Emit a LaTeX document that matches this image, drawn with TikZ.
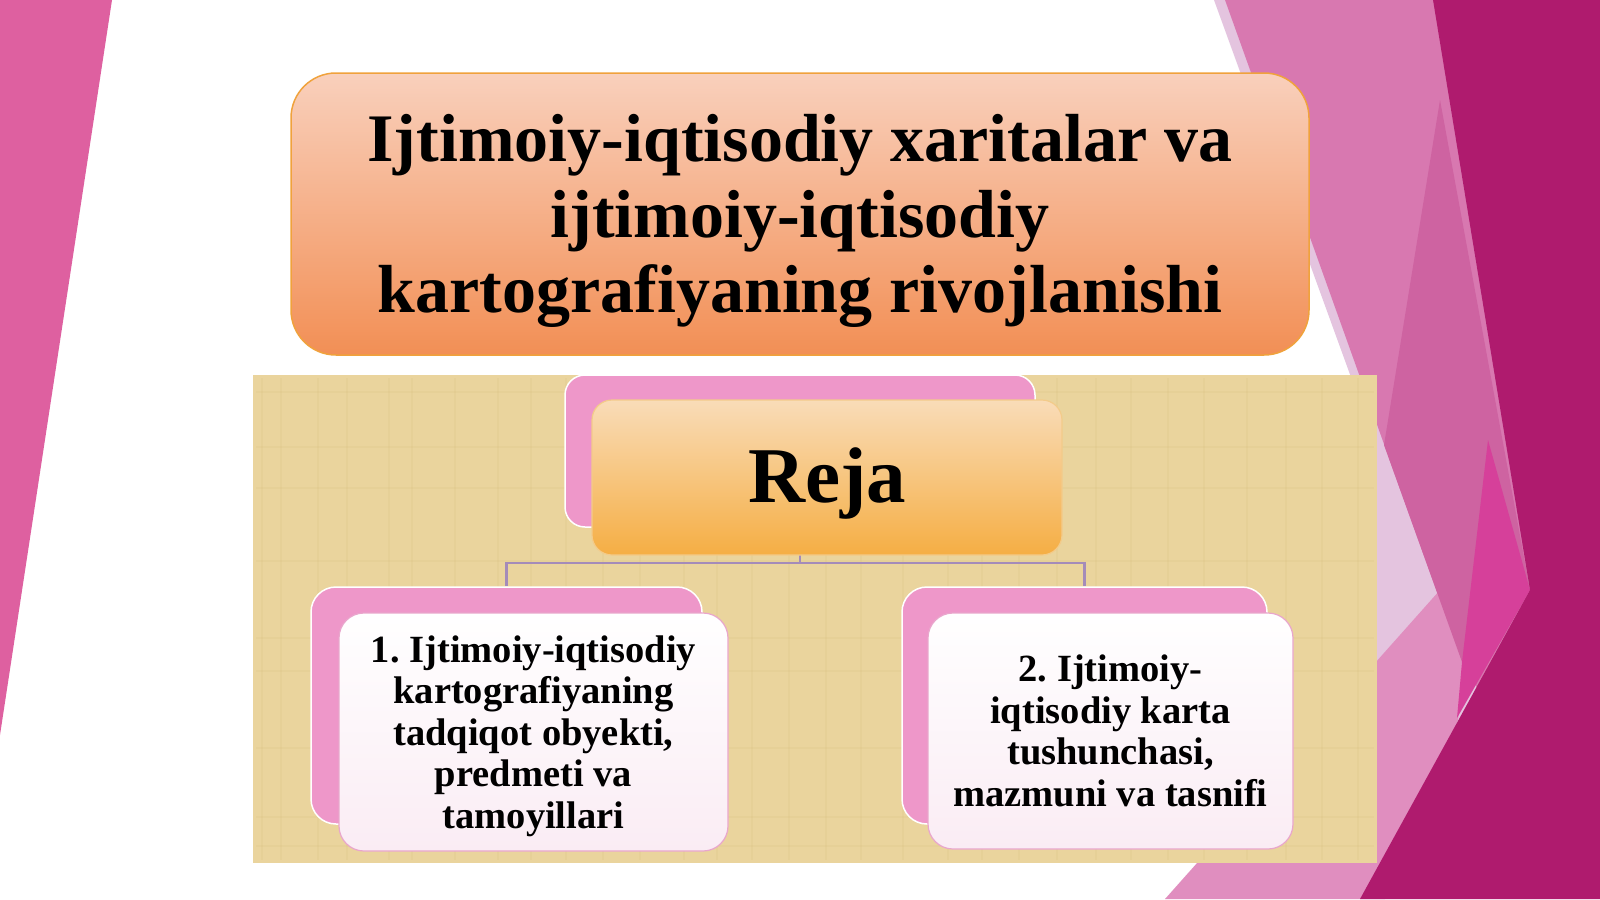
\documentclass[tikz,border=0pt]{standalone}
\usepackage{fontspec}
\setmainfont{Liberation Serif}
\frenchspacing

\definecolor{facetleft}{HTML}{DE60A0}
\definecolor{facetlav}{HTML}{E4C4DF}
\definecolor{facetlight}{HTML}{D878B0}
\definecolor{facetpale}{HTML}{E08EBF}
\definecolor{facetmid}{HTML}{CE63A1}
\definecolor{facethot}{HTML}{D6409A}
\definecolor{facetdark}{HTML}{AF1B6E}
\definecolor{titletop}{HTML}{F9D0BC}
\definecolor{titlebottom}{HTML}{F28F55}
\definecolor{titleedge}{HTML}{F0A23C}
\definecolor{rejatop}{HTML}{F9DCB8}
\definecolor{rejabottom}{HTML}{F5AE44}
\definecolor{rejaedge}{HTML}{F3CB8A}
\definecolor{pinkback}{HTML}{EE97C9}
\definecolor{frontedge}{HTML}{E9A6CC}
\definecolor{frontbottom}{HTML}{FAECF4}
\definecolor{burlap}{HTML}{EAD49D}
\definecolor{burlapline}{HTML}{C9AE6A}
\definecolor{linkline}{HTML}{A48BB9}

\tikzset{title box/.style={rounded corners=45pt,draw=titleedge,line width=1.5pt,top color=titletop,bottom color=titlebottom,inner sep=0pt},
title text/.style={align=center,inner sep=0pt,font=\fontsize{68}{75.5}\selectfont\bfseries},
reja back/.style={rounded corners=20pt,fill=pinkback,draw=white,line width=1.5pt,inner sep=0pt},
reja front/.style={rounded corners=20pt,draw=rejaedge,line width=1.2pt,top color=rejatop,bottom color=rejabottom,inner sep=0pt},
reja text/.style={inner sep=0pt,font=\fontsize{79}{86}\selectfont\bfseries},
item back/.style={rounded corners=25pt,fill=pinkback,draw=white,line width=1.5pt,inner sep=0pt},
item front/.style={rounded corners=25pt,draw=frontedge,line width=1.2pt,top color=white,bottom color=frontbottom,inner sep=0pt},
item text/.style={align=center,inner sep=0pt,font=\fontsize{38.5}{41.5}\selectfont\bfseries},
burlap streak/.style={draw=burlapline,opacity=0.1,line width=1.5pt},
link/.style={draw=linkline,line width=2.5pt}}

\begin{document}
\begin{tikzpicture}[x=1pt,y=-1pt]
\useasboundingbox (0,0) rectangle (1600,899);
\fill[white] (0,0) rectangle (1600,899);

%% facets at the sides
\fill[facetleft] (0,0) -- (112,0) -- (0,735) -- cycle;
\fill[facetlav] (1214,0) -- (1600,0) -- (1600,899) -- (1400,899) -- (1380,700) -- (1352,380) -- cycle;
\fill[facetlight] (1225,0) -- (1600,0) -- (1600,899) -- (1462,662) -- cycle;
\fill[facetpale] (1165,899) -- (1440,590) -- (1465,662) -- (1458,720) -- (1385,899) -- cycle;
\fill[facetmid] (1440,100) -- (1530,590) -- (1462,662) -- (1384,445) -- cycle;
\fill[facethot] (1488,440) -- (1530,590) -- (1457,718) -- (1462,662) -- cycle;
\fill[facetdark] (1433,0) -- (1600,0) -- (1600,899) -- (1360,899) -- (1530,590) -- cycle;

%% title
\node [title box,minimum width=1018pt,minimum height=282pt] (title) at (800,214) {};
\node [title text] (title text) at ([yshift=-7pt]title.center)
  {Ijtimoiy-iqtisodiy xaritalar va\\ijtimoiy-iqtisodiy\\kartografiyaning rivojlanishi};

%% burlap panel
\fill[burlap] (253,375) rectangle (1377,863);
\foreach \x in {262,281,318,347,389,412,455,498,531,566,603,640,684,717,752,789,826,861,903,948,982,1019,1057,1096,1131,1168,1204,1247,1286,1322,1358}
  \draw[burlap streak] (\x,378) -- (\x,860);
\foreach \y in {392,447,488,561,638,671,748,817,846}
  \draw[burlap streak] (256,\y) -- (1374,\y);

%% Coordinates of nodes.
\coordinate (rejab pos) at (800,451);
\coordinate (reja pos) at (827,477.5);
\coordinate (item1b pos) at (506.5,705.5);
\coordinate (item1 pos) at (533.5,732);
\coordinate (item2b pos) at (1084.5,705.5);
\coordinate (item2 pos) at (1110.5,731);

%% back boxes
\node [reja back,minimum width=470pt,minimum height=152pt] (rejab) at (rejab pos) {};
\node [item back,minimum width=391pt,minimum height=237pt] (item1b) at (item1b pos) {};
\node [item back,minimum width=365pt,minimum height=237pt] (item2b) at (item2b pos) {};

%% connectors
\coordinate (fork) at (rejab.south |- 0,563);
\draw [link] (rejab.south) -- (fork);
\draw [link] (fork) -| (item1b.north);
\draw [link] (fork) -| (item2b.north);

%% front boxes
\node [reja front,minimum width=470pt,minimum height=155pt] (reja) at (reja pos) {};
\node [reja text] (reja text) at ([yshift=-6pt]reja.center) {Reja};
\node [item front,minimum width=389pt,minimum height=238pt] (item1) at (item1 pos) {};
\node [item text] (item1 text) at ([yshift=-4pt]item1.center)
  {1. Ijtimoiy-iqtisodiy\\kartografiyaning\\tadqiqot obyekti,\\predmeti va\\tamoyillari};
\node [item front,minimum width=365pt,minimum height=236pt] (item2) at (item2 pos) {};
\node [item text] (item2 text) at (item2.center)
  {2. Ijtimoiy-\\iqtisodiy karta\\tushunchasi,\\mazmuni va tasnifi};

\end{tikzpicture}
\end{document}
